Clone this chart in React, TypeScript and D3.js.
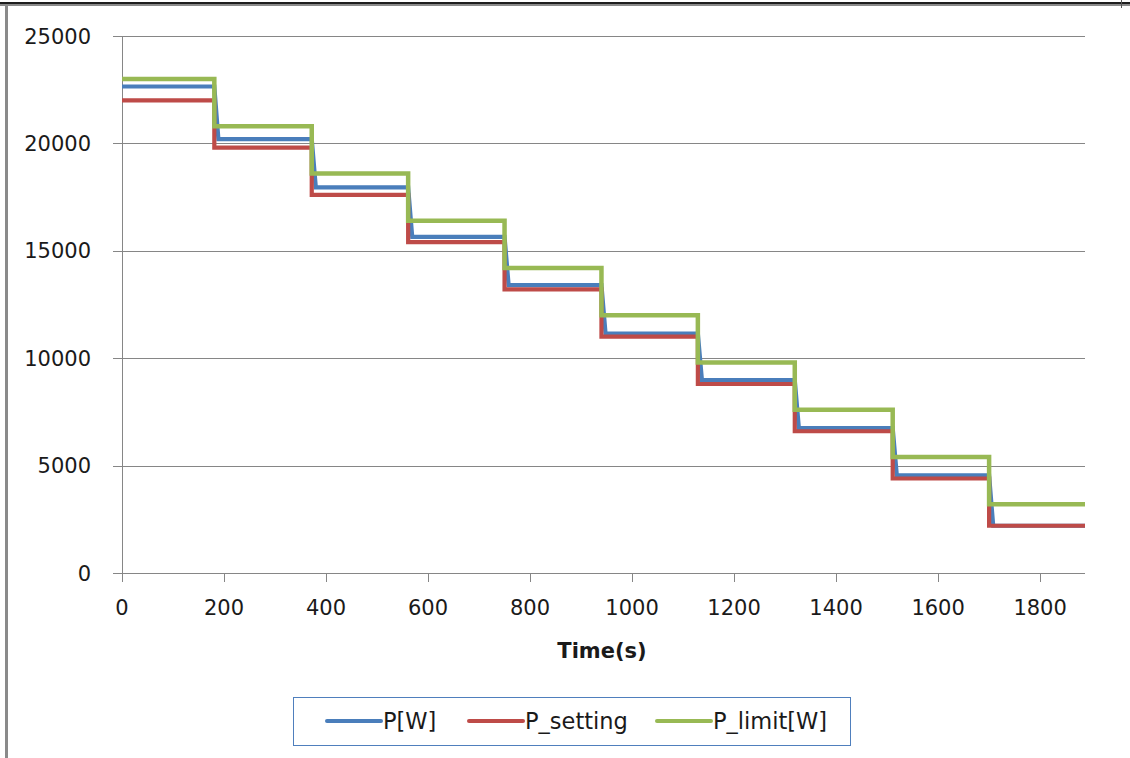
import React from "react";
import * as d3 from "d3";

const stepTimes = [181, 372, 561, 750, 940, 1129, 1319, 1511, 1700];
const blueStepEndTimes = [189, 380, 569, 758, 948, 1137, 1327, 1519, 1708];
const endTime = 1888;
const pW = [22650, 20200, 17950, 15650, 13400, 11150, 8980, 6750, 4550, 2200];
const pSetting = [22000, 19800, 17600, 15400, 13200, 11000, 8800, 6600, 4400, 2200];
const pLimit = [23000, 20800, 18600, 16400, 14200, 12000, 9800, 7600, 5400, 3200];
const xTicks = [0, 200, 400, 600, 800, 1000, 1200, 1400, 1600, 1800];
const yTicks = [0, 5000, 10000, 15000, 20000, 25000];
const seriesNames = ["P[W]", "P_setting", "P_limit[W]"];
const seriesColors = ["#4a7ebb", "#be4b48", "#98b954"];

type Pt = [number, number];

function stepPoints(values: number[], starts: number[], ends: number[]): Pt[] {
  const pts: Pt[] = [[0, values[0]]];
  for (let i = 0; i < starts.length; i++) {
    pts.push([starts[i], values[i]]);
    pts.push([ends[i], values[i + 1]]);
  }
  pts.push([endTime, values[values.length - 1]]);
  return pts;
}

export default function App() {
  const W = 1130;
  const H = 758;
  const left = 122;
  const right = 1085;
  const top = 36;
  const bottom = 573;
  const x = d3.scaleLinear().domain([0, endTime]).range([left, right]);
  const y = d3.scaleLinear().domain([0, 25000]).range([bottom, top]);
  const line = d3
    .line<Pt>()
    .x((d) => x(d[0]))
    .y((d) => y(d[1]));

  const series: Pt[][] = [
    stepPoints(pW, stepTimes, blueStepEndTimes),
    stepPoints(pSetting, stepTimes, stepTimes),
    stepPoints(pLimit, stepTimes, stepTimes),
  ];

  const font = "'DejaVu Sans', sans-serif";
  const grid = "#868686";

  const legendItems = [
    { lx: 327, tx: 383 },
    { lx: 469, tx: 525 },
    { lx: 657, tx: 713 },
  ];

  return (
    <svg
      width={W}
      height={H}
      style={{ position: "absolute", left: 0, top: 0, background: "#fff" }}
      fontFamily={font}
    >
      {/* frame */}
      <rect x={0} y={0} width={W} height={H} fill="#fff" />
      <rect x={0} y={2} width={W} height={2} fill="#1e1e1e" />
      <rect x={0} y={4} width={W} height={2} fill="#8a8a8a" />
      <rect x={5} y={4} width={3} height={H - 4} fill="#8a8a8a" />
      <rect x={1121} y={0} width={1} height={8} fill="#555" />

      {/* grid lines */}
      {yTicks.map((t) => (
        <line
          key={"g" + t}
          x1={left - 9}
          x2={right}
          y1={Math.round(y(t)) + 0.5}
          y2={Math.round(y(t)) + 0.5}
          stroke={grid}
          strokeWidth={1}
        />
      ))}
      {/* y axis */}
      <line x1={left + 0.5} x2={left + 0.5} y1={top} y2={bottom} stroke={grid} strokeWidth={1} />
      {/* x ticks */}
      {xTicks.map((t) => (
        <line
          key={"xt" + t}
          x1={Math.round(x(t)) + 0.5}
          x2={Math.round(x(t)) + 0.5}
          y1={bottom}
          y2={bottom + 9}
          stroke={grid}
          strokeWidth={1}
        />
      ))}
      {/* y labels */}
      {yTicks.map((t) => (
        <text
          key={"yl" + t}
          x={91}
          y={y(t)}
          dy="0.36em"
          textAnchor="end"
          fontSize={21}
          fill="#1a1a1a"
        >
          {t}
        </text>
      ))}
      {/* x labels */}
      {xTicks.map((t) => (
        <text
          key={"xl" + t}
          x={x(t)}
          y={607}
          dy="0.36em"
          textAnchor="middle"
          fontSize={21}
          fill="#1a1a1a"
        >
          {t}
        </text>
      ))}
      <text x={602} y={650} dy="0.36em" textAnchor="middle" fontSize={21} fontWeight="bold" fill="#1a1a1a">
        Time(s)
      </text>

      {/* series */}
      {series.map((pts, i) => (
        <path
          key={"s" + i}
          d={line(pts) || ""}
          fill="none"
          stroke={seriesColors[i]}
          strokeWidth={i === 2 ? 4.5 : 4.2}
          strokeLinejoin="miter"
        />
      ))}

      {/* legend */}
      <rect x={293.5} y={697.5} width={557} height={48} fill="#fff" stroke="#4f7fbd" strokeWidth={1} />
      {legendItems.map((it, i) => (
        <g key={"lg" + i}>
          <line
            x1={it.lx}
            x2={it.lx + 54}
            y1={721}
            y2={721}
            stroke={seriesColors[i]}
            strokeWidth={4}
            strokeLinecap="round"
          />
          <text x={it.tx} y={721} dy="0.36em" fontSize={22.5} fill="#1a1a1a">
            {seriesNames[i]}
          </text>
        </g>
      ))}
    </svg>
  );
}
